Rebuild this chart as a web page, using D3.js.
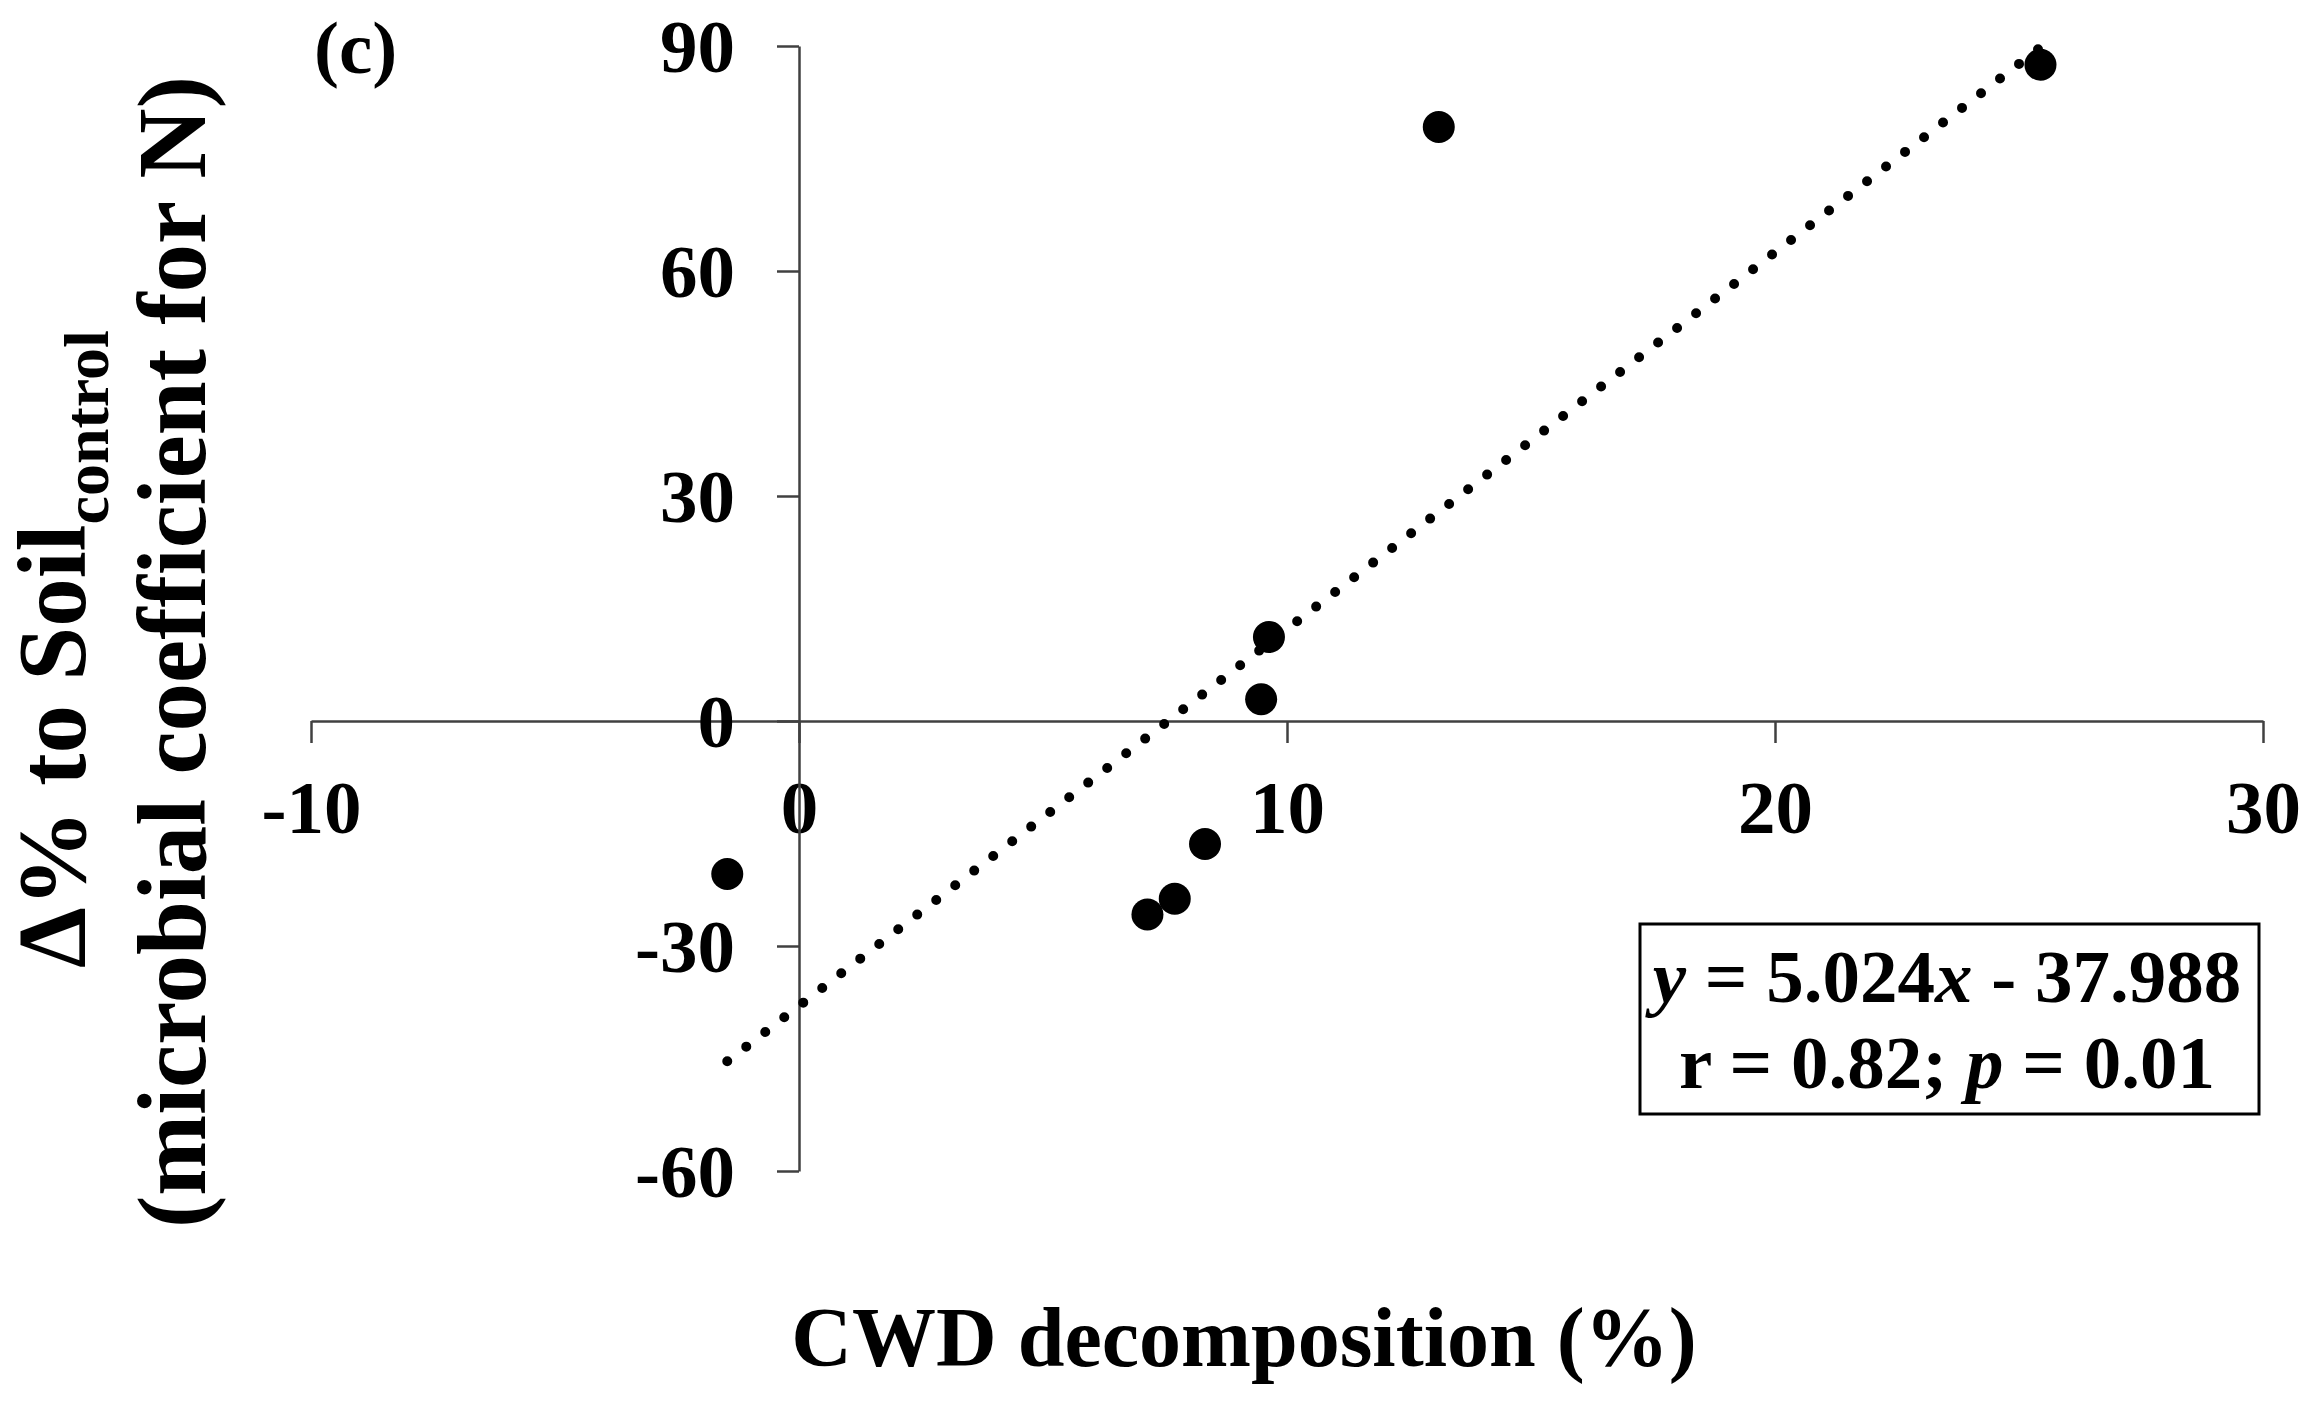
<!DOCTYPE html>
<html>
<head>
<meta charset="utf-8">
<script src="https://cdn.jsdelivr.net/npm/d3@7"></script>
<style>
  body { margin: 0; background: #fff; }
  text { font-family: "Liberation Serif", "Times New Roman", serif; font-weight: bold; fill: #000; }
</style>
</head>
<body>
<svg id="chart" width="2320" height="1408"></svg>
<script>
// data
const cwdDecomp = [-1.47, 7.14, 7.70, 8.32, 9.47, 9.63, 13.11, 25.44];
const deltaSoil = [-20.4, -25.8, -23.7, -16.4, 2.9, 11.2, 79.2, 87.5];
const xTicks = [-10, 0, 10, 20, 30];
const yTicks = [-60, -30, 0, 30, 60, 90];
const slope = 5.024, intercept = -37.988;

const svg = d3.select("#chart");

const x = d3.scaleLinear().domain([-10, 30]).range([311, 2263]);
const y = d3.scaleLinear().domain([-60, 90]).range([1171, 46]);

// plain hyphen for negatives, like the original
const fmt = d => String(d);

// axes cross at 0
const xAxis = svg.append("g")
    .attr("transform", `translate(0,${y(0)})`)
    .call(d3.axisBottom(x).tickValues(xTicks).tickFormat(fmt).tickSize(22).tickSizeOuter(0).tickPadding(37));

const yAxis = svg.append("g")
    .attr("transform", `translate(${x(0)},0)`)
    .call(d3.axisLeft(y).tickValues(yTicks).tickFormat(fmt).tickSize(22).tickSizeOuter(0).tickPadding(42));

[xAxis, yAxis].forEach(g => {
    g.selectAll("path, line").attr("stroke", "#404040").attr("stroke-width", 2.5);
    g.selectAll("text").style("font-size", "75px").attr("fill", "#000");
});
yAxis.selectAll("text").attr("dy", "0.34em");

// regression line (dotted)
const xMin = d3.min(cwdDecomp), xMax = d3.max(cwdDecomp);
svg.append("line")
    .attr("x1", x(xMin)).attr("y1", y(slope * xMin + intercept))
    .attr("x2", x(xMax)).attr("y2", y(slope * xMax + intercept))
    .attr("stroke", "#000")
    .attr("stroke-width", 10)
    .attr("stroke-linecap", "round")
    .attr("stroke-dasharray", "0 24");

// points
svg.append("g")
    .selectAll("circle")
    .data(cwdDecomp)
    .enter()
    .append("circle")
    .attr("cx", d => x(d))
    .attr("cy", (d, i) => y(deltaSoil[i]))
    .attr("r", 16)
    .attr("fill", "#000");

// equation box
svg.append("rect")
    .attr("x", 1640).attr("y", 924)
    .attr("width", 619).attr("height", 190)
    .attr("fill", "#fff")
    .attr("stroke", "#000")
    .attr("stroke-width", 3);

const eq1 = svg.append("text")
    .attr("x", 1947).attr("y", 1002)
    .attr("text-anchor", "middle")
    .style("font-size", "75px");
eq1.append("tspan").style("font-style", "italic").text("y");
eq1.append("tspan").text(" = " + slope.toFixed(3));
eq1.append("tspan").style("font-style", "italic").text("x");
eq1.append("tspan").text(" - " + Math.abs(intercept).toFixed(3));

const eq2 = svg.append("text")
    .attr("x", 1947).attr("y", 1088)
    .attr("text-anchor", "middle")
    .style("font-size", "75px");
eq2.append("tspan").text("r = 0.82; ");
eq2.append("tspan").style("font-style", "italic").text("p");
eq2.append("tspan").text(" = 0.01");

// panel label
svg.append("text")
    .attr("x", 314).attr("y", 73)
    .style("font-size", "75px")
    .text("(c)");

// x title
svg.append("text")
    .attr("x", 1244).attr("y", 1366)
    .attr("text-anchor", "middle")
    .style("font-size", "84px")
    .text("CWD decomposition (%)");

// y title, two lines
const yt1 = svg.append("text")
    .attr("transform", "translate(85,649) rotate(-90)")
    .attr("text-anchor", "middle")
    .style("font-size", "97px");
yt1.append("tspan").text("Δ% to Soil");
yt1.append("tspan").attr("dy", 23).style("font-size", "64px").text("control");

svg.append("text")
    .attr("transform", "translate(205,652) rotate(-90)")
    .attr("text-anchor", "middle")
    .style("font-size", "97px")
    .text("(microbial coefficient for N)");
</script>
</body>
</html>
